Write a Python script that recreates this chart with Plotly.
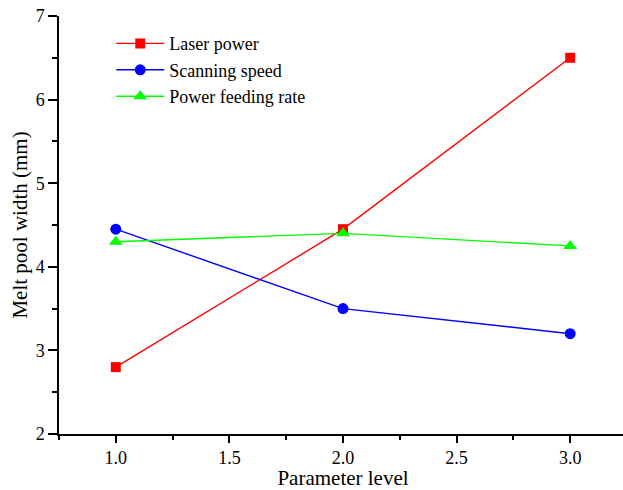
import plotly.graph_objects as go

levels = [1.0, 2.0, 3.0]
laser_power = [2.8, 4.45, 6.5]
scanning_speed = [4.45, 3.5, 3.2]
feeding_rate = [4.3, 4.4, 4.25]

series = [
    ("Laser power", laser_power, "#FF0000", "square", 10),
    ("Scanning speed", scanning_speed, "#0000FF", "circle", 11),
    ("Power feeding rate", feeding_rate, "#00FF00", "triangle-up", 12),
]

fig = go.Figure()
for name, vals, col, sym, sz in series:
    fig.add_trace(go.Scatter(
        x=levels, y=vals, name=name, mode="lines+markers",
        line=dict(color=col, width=1.4),
        marker=dict(color=col, symbol=sym, size=sz, line=dict(width=0)),
    ))

font = "Liberation Serif, Times New Roman, serif"
common = dict(
    showline=True, linecolor="black", linewidth=1.5,
    ticks="outside", tickwidth=1.5, tickcolor="black",
    showgrid=False, zeroline=False, automargin=False,
    tickfont=dict(family=font, size=18, color="black"),
)
fig.update_xaxes(range=[0.75, 3.25], tickvals=[1.0, 1.5, 2.0, 2.5, 3.0],
                 ticktext=["1.0", "1.5", "2.0", "2.5", "3.0"], ticklen=7,
                 minor=dict(ticks="outside", ticklen=4, tickwidth=1.5, tickcolor="black",
                            dtick=0.25, tick0=0.75),
                 title=dict(text="Parameter level", font=dict(family=font, size=21, color="black"), standoff=7),
                 **common)
fig.update_yaxes(range=[2, 7], dtick=1, ticklen=9,
                 minor=dict(ticks="outside", ticklen=5, tickwidth=1.5, tickcolor="black",
                            dtick=0.5, tick0=2),
                 title=dict(text="Melt pool width (mm)", font=dict(family=font, size=21, color="black"), standoff=2),
                 **common)

fig.update_layout(
    width=627, height=490,
    margin=dict(l=59, r=0, t=16, b=56),
    plot_bgcolor="white", paper_bgcolor="white",
    legend=dict(x=0.092, y=0.978, xanchor="left", yanchor="top",
                font=dict(family=font, size=18, color="black"),
                bgcolor="rgba(0,0,0,0)", itemwidth=48),
)
fig.write_html("out.html", config={"displayModeBar": False},
               post_script="document.body.style.margin='0';document.body.style.overflow='hidden';")
